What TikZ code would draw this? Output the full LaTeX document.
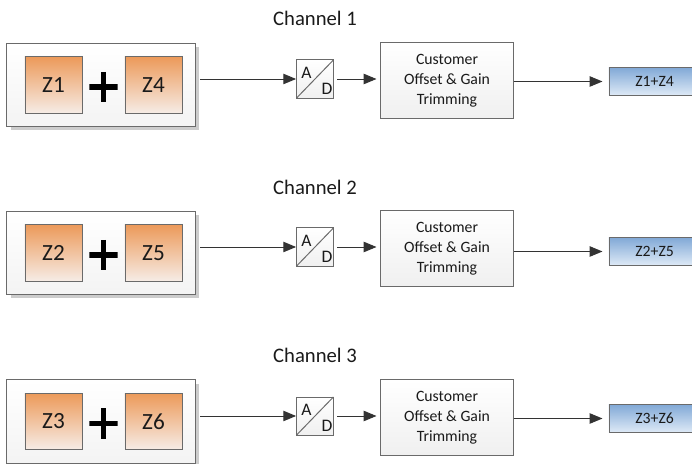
\documentclass[tikz,border=0pt]{standalone}
\usepackage{fontspec}
\setmainfont{Carlito}
\usepackage{tikz}
\usepackage{xcolor}
\usetikzlibrary{arrows.meta, positioning, shadows}

\definecolor{boxline}{HTML}{6A6A6A}
\definecolor{zonetop}{HTML}{EC9A5A}
\definecolor{zonebot}{HTML}{F6ECE6}
\definecolor{outtop}{HTML}{80A8D6}
\definecolor{outbot}{HTML}{E0EBF7}
\definecolor{txt}{HTML}{1A1A1A}

\begin{document}
\begin{tikzpicture}[x=0.025cm, y=-0.025cm,
            sensor/.style={rectangle, draw=boxline, line width=0.7pt, top color=white, bottom color=gray!9, minimum width=4.7cm, minimum height=2.075cm, inner sep=0pt, drop shadow={shadow xshift=0.09cm, shadow yshift=-0.09cm, fill=gray!40, opacity=1}},
            zone/.style={rectangle, draw=boxline, line width=0.7pt, top color=zonetop, bottom color=zonebot, minimum width=1.425cm, minimum height=1.4cm, inner sep=0pt, text=txt, font=\fontsize{16.5}{19}\selectfont},
            plussign/.style={minimum width=0.7cm, minimum height=0.75cm, inner sep=0pt, path picture={
                \draw[line width=4.2pt] (path picture bounding box.north) -- (path picture bounding box.south);
                \draw[line width=4.2pt] (path picture bounding box.west) -- (path picture bounding box.east);}},
            adc/.style={rectangle, draw=boxline, line width=0.7pt, top color=white, bottom color=gray!12, minimum width=0.92cm, minimum height=0.95cm, inner sep=0pt, path picture={
                \draw[line width=0.7pt] (path picture bounding box.south west) -- (path picture bounding box.north east);}},
            adcletter/.style={inner sep=0pt, text=txt, font=\fontsize{12.5}{14}\selectfont},
            trim/.style={rectangle, draw=boxline, line width=0.7pt, top color=white, bottom color=gray!12, minimum width=3.3cm, minimum height=1.875cm, align=center, inner sep=0pt, text=txt, font=\fontsize{11.2}{14.2}\selectfont},
            output/.style={rectangle, draw=boxline, line width=0.7pt, top color=outtop, bottom color=outbot, minimum width=2.4cm, minimum height=0.72cm, inner sep=0pt, text=txt, font=\fontsize{11.2}{13}\selectfont},
            channel/.style={inner sep=0pt, text=txt, font=\fontsize{14.7}{17}\selectfont},
            arrow/.style={-{Triangle[length=0.32cm, width=0.26cm]}, line width=0.7pt, draw=black!80}
        ]
\useasboundingbox (0,0) rectangle (692,464);

% Channel 1
            \node[channel] (ch1) at (315,18) {Channel 1};
            \node[sensor] (sensor1) at (101,85) {};
            \node[zone] (za1) at (53.5,85) {Z1};
            \node[plussign] (plus1) at (103.5,87) {};
            \node[zone] (zb1) at (153.5,85) {Z4};
            \node[adc] (adc1) at (315,79) {};
            \node[adcletter] (adcA1) at (306.5,72.5) {A};
            \node[adcletter] (adcD1) at (327,88.5) {D};
            \node[trim] (trim1) at (447,80.5) {Customer\\Offset \& Gain\\Trimming};
            \node[output] (out1) at (657,81.5) {\hspace*{-0.12cm}Z1+Z4};

% Channel 2
            \node[channel] (ch2) at (315,187) {Channel 2};
            \node[sensor] (sensor2) at (101,253) {};
            \node[zone] (za2) at (53.5,253) {Z2};
            \node[plussign] (plus2) at (103.5,255) {};
            \node[zone] (zb2) at (153.5,253) {Z5};
            \node[adc] (adc2) at (315,247) {};
            \node[adcletter] (adcA2) at (306.5,240.5) {A};
            \node[adcletter] (adcD2) at (327,256.5) {D};
            \node[trim] (trim2) at (447,248.5) {Customer\\Offset \& Gain\\Trimming};
            \node[output] (out2) at (657,251.5) {\hspace*{-0.12cm}Z2+Z5};

% Channel 3
            \node[channel] (ch3) at (315,355) {Channel 3};
            \node[sensor] (sensor3) at (101,421.5) {};
            \node[zone] (za3) at (53.5,421.5) {Z3};
            \node[plussign] (plus3) at (103.5,423.5) {};
            \node[zone] (zb3) at (153.5,421.5) {Z6};
            \node[adc] (adc3) at (315,416) {};
            \node[adcletter] (adcA3) at (306.5,409.5) {A};
            \node[adcletter] (adcD3) at (327,425.5) {D};
            \node[trim] (trim3) at (447,417.5) {Customer\\Offset \& Gain\\Trimming};
            \node[output] (out3) at (657,418.5) {\hspace*{-0.12cm}Z3+Z6};

% Arrows
            \draw[arrow, shorten <=0.12cm] (sensor1.east |- adc1.west) -- (adc1.west);
            \draw[arrow, shorten <=0.08cm, shorten >=0.1cm] (adc1.east) -- (trim1.west |- adc1.east);
            \draw[arrow, shorten >=0.15cm] (trim1.east |- out1.west) -- (out1.west);

            \draw[arrow, shorten <=0.12cm] (sensor2.east |- adc2.west) -- (adc2.west);
            \draw[arrow, shorten <=0.08cm, shorten >=0.1cm] (adc2.east) -- (trim2.west |- adc2.east);
            \draw[arrow, shorten >=0.15cm] (trim2.east |- out2.west) -- (out2.west);

            \draw[arrow, shorten <=0.12cm] (sensor3.east |- adc3.west) -- (adc3.west);
            \draw[arrow, shorten <=0.08cm, shorten >=0.1cm] (adc3.east) -- (trim3.west |- adc3.east);
            \draw[arrow, shorten >=0.15cm] (trim3.east |- out3.west) -- (out3.west);

\end{tikzpicture}
\end{document}
